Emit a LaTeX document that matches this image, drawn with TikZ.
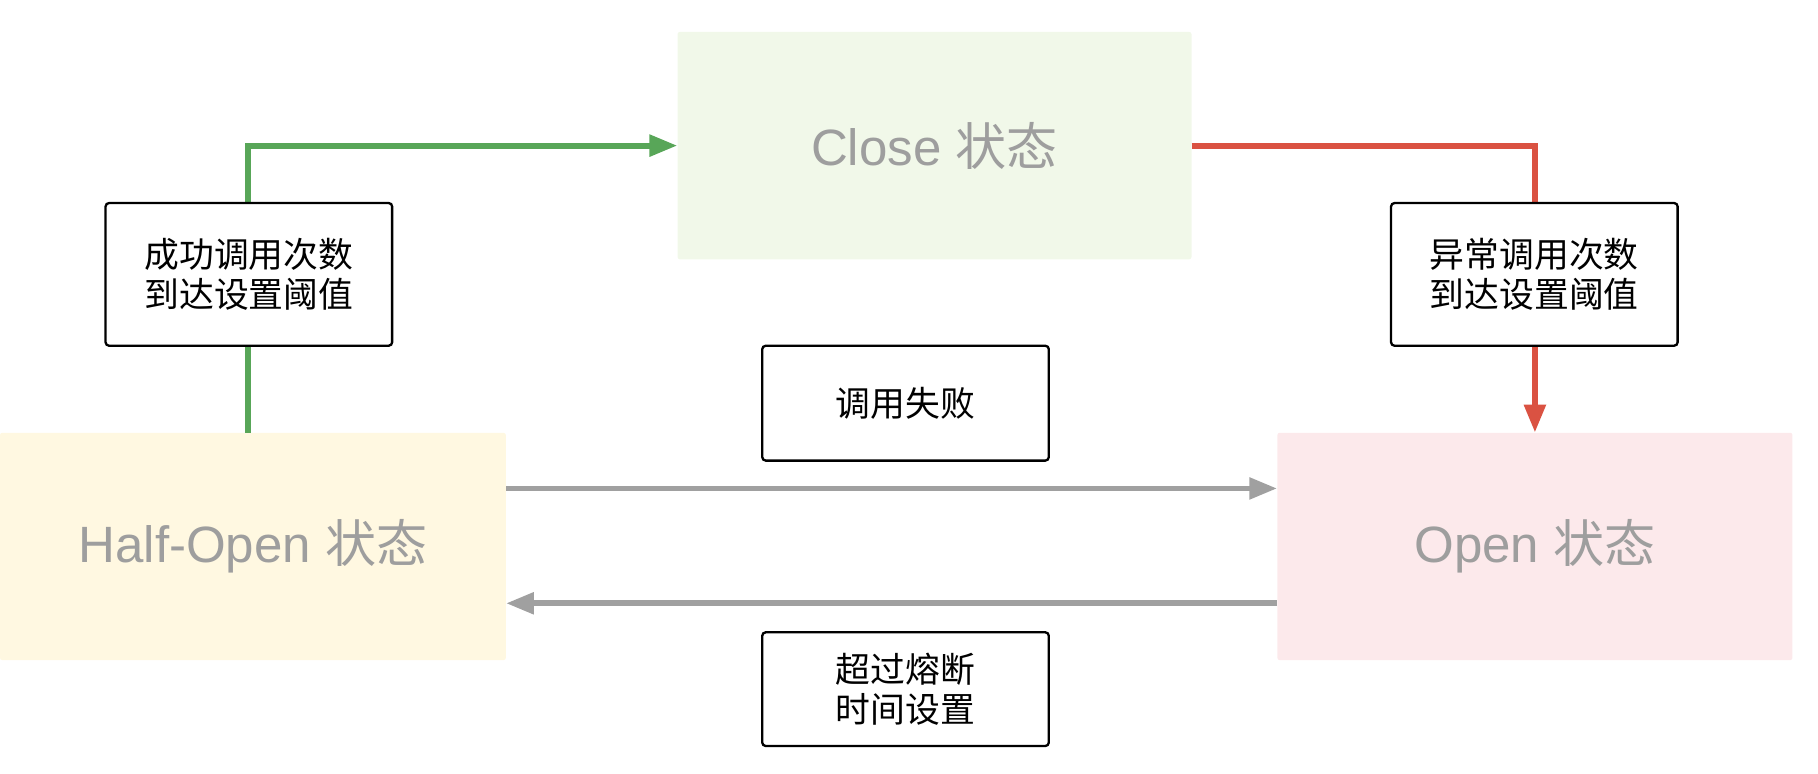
\documentclass[tikz,border=0pt]{standalone}
\usepackage{fontspec}
\setmainfont{Liberation Sans}
\newfontfamily\cjk{Noto Sans CJK SC}
\usetikzlibrary{arrows.meta}
\definecolor{closefill}{RGB}{241,248,233}
\definecolor{halffill}{RGB}{255,248,225}
\definecolor{openfill}{RGB}{252,233,235}
\definecolor{okgreen}{RGB}{88,166,88}
\definecolor{badred}{RGB}{218,82,66}
\definecolor{flowgray}{RGB}{160,160,160}
\definecolor{stategray}{RGB}{158,158,158}
\tikzset{
  statebox/.style={minimum width=443pt, minimum height=196pt, inner sep=0pt, rounded corners=2pt,
    text=stategray, font=\fontsize{44}{52}\selectfont},
  labelbox/.style={draw=black, line width=2pt, fill=white, rounded corners=3pt, minimum width=247pt,
    inner sep=0pt, align=center, font=\fontsize{30}{35}\selectfont\cjk},
  conn/.style={line width=5pt, -{Triangle[length=24pt,width=18pt]}},
}
\begin{document}
\begin{tikzpicture}[x=1pt,y=-1pt]
\useasboundingbox (0,0) rectangle (1567,667);
\node[statebox, fill=closefill] (close) at (805.5,125.5) {Close {\cjk 状态}};
\node[statebox, fill=halffill, minimum width=436pt] (half) at (218,471) {Half-Open {\cjk 状态}};
\node[statebox, fill=openfill, minimum width=444pt] (open) at (1323,471) {Open {\cjk 状态}};
\draw[conn, okgreen] ([xshift=-4pt]half.north) |- (close.west);
\draw[conn, badred] (close.east) -| (open.north);
\draw[conn, flowgray] ([yshift=50pt]half.east) -- ([yshift=50pt]open.west);
\draw[conn, flowgray] ([yshift=-49pt]open.west) -- ([yshift=-49pt]half.east);
\node[labelbox, minimum height=123pt] (okcount) at (214.5,236.5) {成功调用次数\\到达设置阈值};
\node[labelbox, minimum height=123pt] (badcount) at (1322.5,236.5) {异常调用次数\\到达设置阈值};
\node[labelbox, minimum height=99pt] (fail) at (780.5,347.5) {调用失败};
\node[labelbox, minimum height=98pt] (timeout) at (780.5,594) {超过熔断\\时间设置};
\end{tikzpicture}
\end{document}
